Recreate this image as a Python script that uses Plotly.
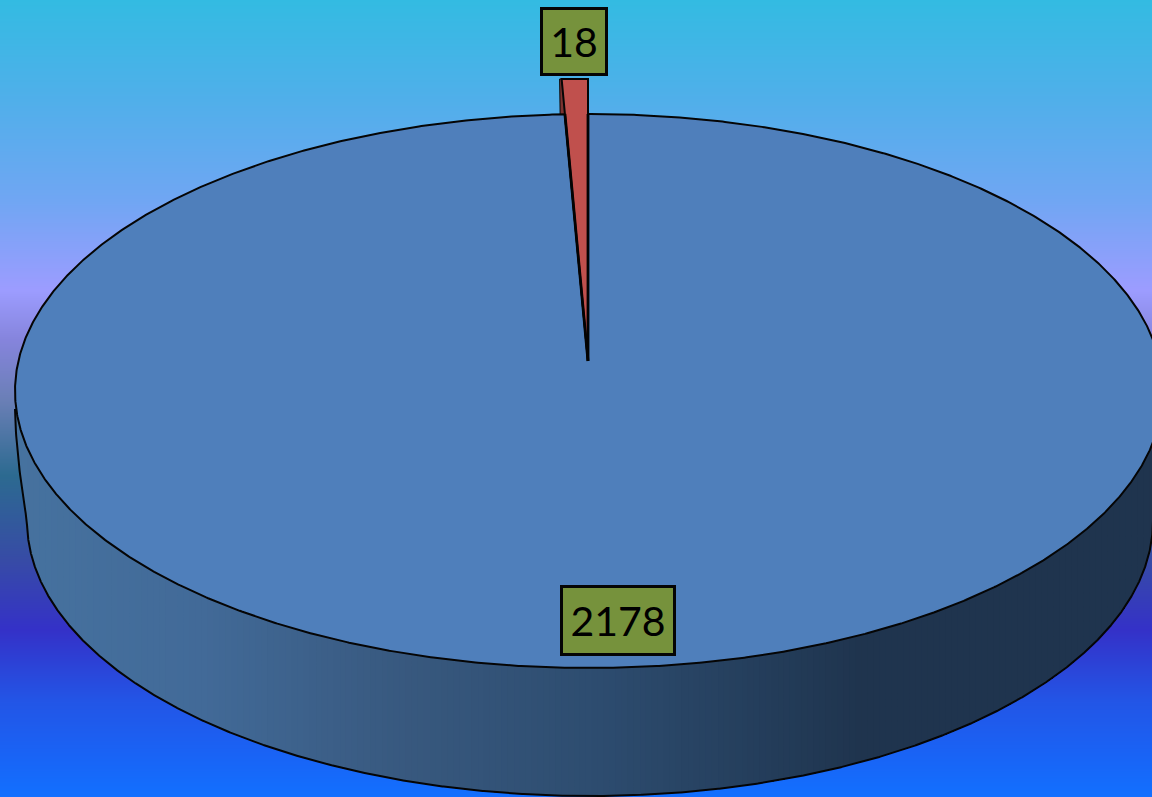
import numpy as np
import plotly.graph_objects as go

categories = ["A", "B"]
values = [2178, 18]
labels = ["2178", "18"]

# background gradient stops (pixel row, colour)
bg_rows = [0, 100, 200, 290, 340, 400, 475, 560, 630, 700, 750, 797]
bg_colors = ["#33BBE2", "#50AFEA", "#70A6F3", "#9C9CFF", "#8584DC", "#6A7FB6",
             "#2C6A90", "#374BA6", "#3431C8", "#2355E6", "#1A62F4", "#1270FF"]
# side wall gradient stops (pixel column, colour)
side_cols = [15, 200, 400, 600, 800, 860, 1152]
side_colors = ["#46729F", "#426A98", "#38597F", "#2D4C6F", "#223A56", "#1F344E", "#1F344E"]

W, H = 1152, 797
CX, CY, RX, RY = 589, 391, 574, 277
TIP_X, TIP_Y = 588, 361
# lower rim sits slightly narrower and to the right of the top rim
BX, BY, BRX, BRY = 590, 521, 563, 275
RED_RX, RED_RY = 512, 282
EDGE = "#050505"


def hex_rgb(c):
    return np.array([int(c[i:i + 2], 16) for i in (1, 3, 5)], float)


def lerp(x, xs, cols):
    arr = np.array([hex_rgb(c) for c in cols])
    rgb = [np.interp(x, xs, arr[:, i]) for i in range(3)]
    return "rgb(%d,%d,%d)" % tuple(int(round(v)) for v in rgb)


fig = go.Figure()

# background
rows = np.arange(0, H + 1, 1)
fig.add_trace(go.Heatmap(
    x=[0, W], y=rows, z=[[r, r] for r in rows], showscale=False, hoverinfo="skip",
    zmin=0, zmax=H,
    colorscale=[[r / H, c] for r, c in zip(bg_rows, bg_colors)],
))

total = sum(values)
a_red = values[1] / total * 2 * np.pi


def top_lower(x):
    return CY + RY * np.sqrt(np.clip(1 - ((x - CX) / RX) ** 2, 0, 1))


# outer wall line: runs from the left end of the top rim down into the lower rim
t = np.linspace(np.pi, 0, 1500)
rim_x = BX + BRX * np.cos(t)
rim_y = BY + BRY * np.sin(t)
lead_y = np.linspace(CY + 18, BY, 30)[:-1]
lead_x = (CX - RX) + (BX - BRX - (CX - RX)) * ((lead_y - lead_y[0]) / (BY - lead_y[0])) ** 1.6
grid = np.r_[lead_x, rim_x]
lo = np.r_[lead_y, rim_y]
up = top_lower(grid)

# side wall: painter's bands, each from column x to the right edge
for x0 in np.arange(CX - RX, W, 6):
    m = grid >= x0
    fig.add_trace(go.Scatter(
        x=np.r_[grid[m], grid[m][::-1]], y=np.r_[up[m], lo[m][::-1]],
        mode="lines", fill="toself", hoverinfo="skip", line=dict(width=0),
        fillcolor=lerp(x0 + 3, side_cols, side_colors)))
fig.add_trace(go.Scatter(x=grid, y=lo, mode="lines", hoverinfo="skip",
                         line=dict(color=EDGE, width=2)))

# red slice: outer cut (dark) and top face
red_off = RED_RX * np.sin(a_red)
top_y = TIP_Y - RED_RY
cut_x = TIP_X - red_off
fig.add_trace(go.Scatter(
    x=[cut_x - 2, cut_x, cut_x + 4, cut_x - 1.5, cut_x - 2],
    y=[top_y, top_y, CY - RY + 1, CY - RY + 1, top_y],
    mode="lines", fill="toself", fillcolor="#7D3331", line=dict(color=EDGE, width=1), hoverinfo="skip"))

# blue top face: its notch closes on the tip of the red slice
notch_off = red_off * (TIP_Y - (CY - RY)) / RED_RY
a_start = np.arcsin((TIP_X - CX) / RX)
a_end = 2 * np.pi - np.arcsin((notch_off + CX - TIP_X) / RX)
ang_b = np.linspace(a_start, a_end, 1400)
fig.add_trace(go.Scatter(
    x=np.r_[TIP_X, CX + RX * np.sin(ang_b), TIP_X],
    y=np.r_[TIP_Y, CY - RY * np.cos(ang_b), TIP_Y],
    mode="lines", fill="toself", fillcolor="#4F7FBB", line=dict(color=EDGE, width=2), hoverinfo="skip"))

# red top face
ang_r = np.linspace(-a_red, 0, 20)
fig.add_trace(go.Scatter(
    x=np.r_[TIP_X, TIP_X + RED_RX * np.sin(ang_r), TIP_X],
    y=np.r_[TIP_Y, np.full(20, top_y), TIP_Y],
    mode="lines", fill="toself", fillcolor="#C0504D", line=dict(color=EDGE, width=2), hoverinfo="skip"))
# heavier inner edges converging on the tip
fig.add_trace(go.Scatter(
    x=[TIP_X, TIP_X, None, TIP_X, TIP_X - notch_off],
    y=[TIP_Y, CY - RY, None, TIP_Y, CY - RY],
    mode="lines", line=dict(color="#030303", width=2.8), hoverinfo="skip"))

lab_pos = [(617.5, 620, 110, 65), (573.5, 41, 62, 63)]
for txt, (x, y, w, h) in zip(labels, lab_pos):
    fig.add_annotation(x=x, y=y, xref="x", yref="y", text=txt, showarrow=False,
                       font=dict(family="Lato", size=41, color="#000000"),
                       bgcolor="#76923C", bordercolor="#050505", borderwidth=3,
                       borderpad=0, width=w, height=h, align="center", valign="middle")

fig.update_layout(
    width=W, height=H, margin=dict(l=0, r=0, t=0, b=0), showlegend=False,
    paper_bgcolor="#1270FF", plot_bgcolor="rgba(0,0,0,0)",
    xaxis=dict(range=[0, W], visible=False, fixedrange=True),
    yaxis=dict(range=[H, 0], visible=False, fixedrange=True),
)
fig.write_html("out.html", config={"displayModeBar": False},
               post_script="document.body.style.margin='0';document.body.style.overflow='hidden';")
